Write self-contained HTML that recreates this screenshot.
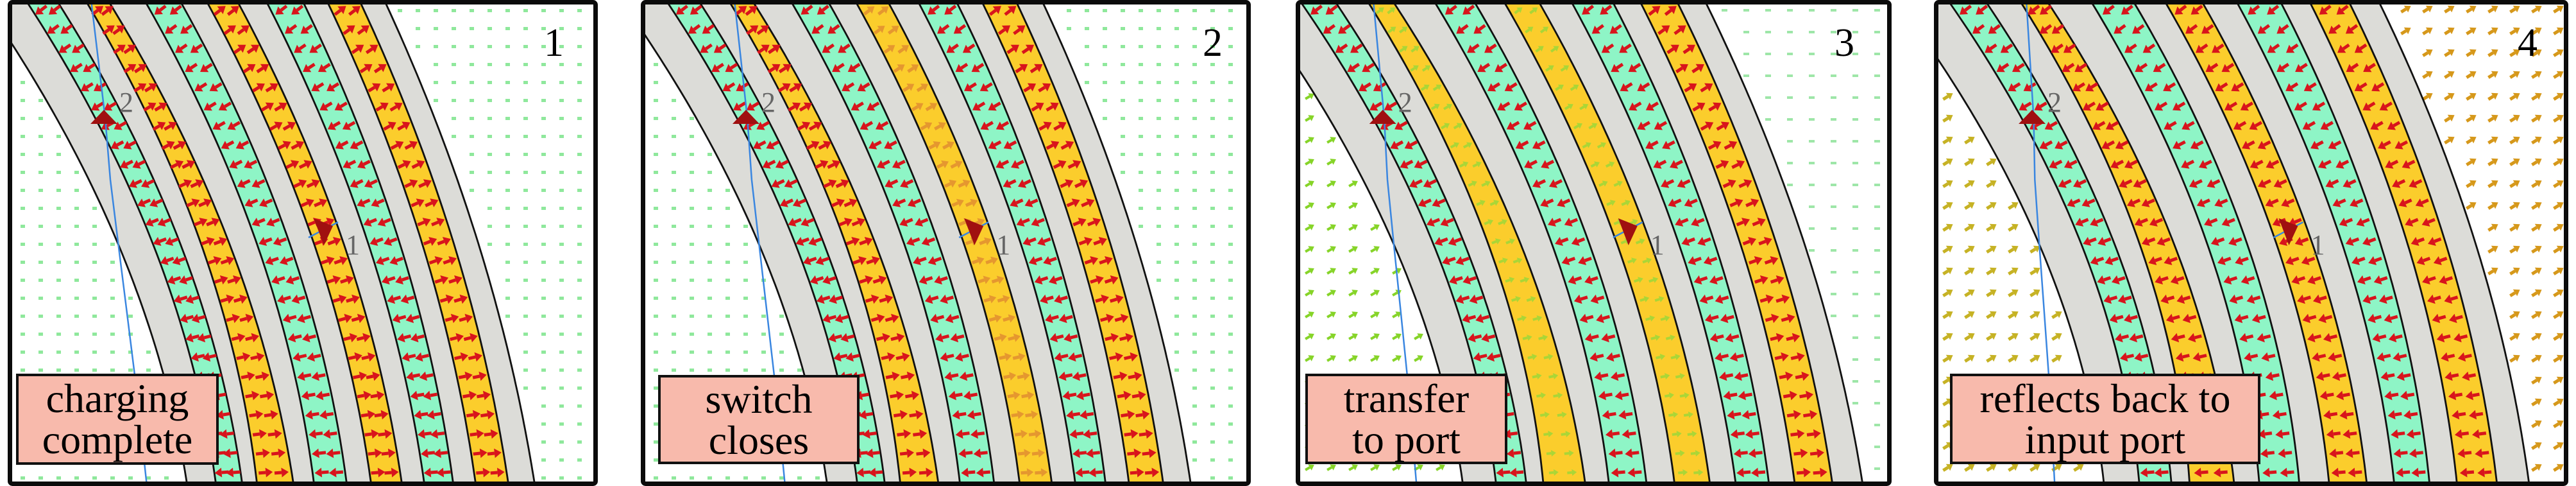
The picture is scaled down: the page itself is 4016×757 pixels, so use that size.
<!DOCTYPE html>
<html><head><meta charset="utf-8">
<style>
html,body{margin:0;padding:0;background:#fff;}
body{width:4016px;height:757px;position:relative;overflow:hidden;font-family:'Liberation Serif','DejaVu Serif',serif;}
svg{position:absolute;top:0;}
.lbl{position:absolute;background:#f8baac;border:4px solid #111;box-sizing:border-box;display:flex;flex-direction:column;justify-content:center;align-items:center;font-family:'Liberation Serif','DejaVu Serif',serif;font-size:64px;line-height:64px;color:#000;}
.num{position:absolute;top:36px;font-family:'Liberation Serif','DejaVu Serif',serif;font-size:62px;line-height:62px;color:#000;}
</style></head><body>
<div id="wrap"></div>
<div class="lbl" style="left:25px;top:582px;width:316px;height:142px;"><div>charging</div><div>complete</div></div>
<div class="lbl" style="left:1026px;top:584px;width:314px;height:139px;"><div>switch</div><div>closes</div></div>
<div class="lbl" style="left:2035px;top:582px;width:315px;height:141px;"><div>transfer</div><div>to port</div></div>
<div class="lbl" style="left:3040px;top:582px;width:484px;height:141px;"><div>reflects back to</div><div>input port</div></div>
<div class="num" style="left:848px;">1</div>
<div class="num" style="left:1875px;">2</div>
<div class="num" style="left:2860px;">3</div>
<div class="num" style="left:3925px;">4</div>
<script>
const BT=[-39,28,76,121,156,213,268,309,357,402,459,497,548,587];
const BB=[280,325,366,389,446,478,529,567,615,650,695,730,781,822];
const TYPES=['g','m','g','y','g','m','g','y','g','m','g','y','g'];
const COL={g:'#dcdcd8',m:'#8ef5c6',y:'#fbcd2c'};
const P=[
 {x0:12,w:920,aT:0,bT:1,aB:0,bB:1},
 {x0:999,w:951,aT:9.7,bT:1.048,aB:-2,bB:1.046},
 {x0:2020,w:929,aT:-26,bT:1.13,aB:-61,bB:1.15},
 {x0:3015,w:989,aT:-12,bT:1.2,aB:-77,bB:1.223}
];
const H=757;
function tf(p,x,t){return p.aT+(p.aB-p.aT)*t+(p.bT+(p.bB-p.bT)*t)*x;}
function bx(i,t,p){const T=BT[i],B=BB[i];const bul=51+(29-51)*i/13;const C=(T+B)/2+2*bul;
 const x=(1-t)*(1-t)*T+2*t*(1-t)*C+t*t*B;return tf(p,x,t);}
function arrow(x,y,ang,col,len,sw,op){
 const r=ang*Math.PI/180,c=Math.cos(r),s=Math.sin(r);
 const hx=x+c*len/2,hy=y+s*len/2,tx=x-c*len/2,ty=y-s*len/2;
 const hl=len*0.5,hw=len*0.34;
 const bx1=hx-c*hl,by1=hy-s*hl;
 const p1=(bx1-s*hw).toFixed(1)+','+(by1+c*hw).toFixed(1);
 const p2=(bx1+s*hw).toFixed(1)+','+(by1-c*hw).toFixed(1);
 const o=op?` opacity="${op}"`:'';
 return `<g${o}><line x1="${tx.toFixed(1)}" y1="${ty.toFixed(1)}" x2="${bx1.toFixed(1)}" y2="${by1.toFixed(1)}" stroke="${col}" stroke-width="${sw}"/><polygon points="${hx.toFixed(1)},${hy.toFixed(1)} ${p1} ${p2}" fill="${col}"/></g>`;
}
let html='';
P.forEach((p,k)=>{
 const w=p.w;let s=`<svg width="${w}" height="${H}" style="left:${p.x0}px" viewBox="0 0 ${w} ${H}"><defs><clipPath id="c${k}"><rect x="6" y="6" width="${w-12}" height="${H-12}"/></clipPath></defs><rect width="${w}" height="${H}" fill="#fff"/><g clip-path="url(#c${k})">`;
 const ys=[];for(let y=-4;y<=H+8;y+=8)ys.push(y);
 for(let y=14;y<H;y+=(k>=2?34:28)){const t=y/H;const l=bx(0,t,p)-8,r=bx(13,t,p)+8;
  for(let x=(k>=2?22:20);x<w;x+=(k>=2?34:28)){
   const left=x<l,right=x>r; if(!left&&!right)continue;
   if(k<2){s+=`<rect x="${x}" y="${y}" width="7" height="5" fill="#8fe89c"/>`;}
   else if(k==2){ if(left) s+=arrow(x,y,-30,'#86d428',16,4); else s+=`<rect x="${x-4}" y="${y}" width="9" height="4" fill="#9ee6a8"/>`;}
   else { s+=arrow(x,y,-32,left?'#c6b224':'#d6981a',18,5);}
  }}
 for(let i=0;i<13;i++){let d='M';ys.forEach((y,j)=>{d+=(j?'L':'')+bx(i,y/H,p).toFixed(1)+','+y;});
  for(let j=ys.length-1;j>=0;j--){d+='L'+bx(i+1,ys[j]/H,p).toFixed(1)+','+ys[j];}
  s+=`<path d="${d}Z" fill="${COL[TYPES[i]]}"/>`;}
 for(let i=0;i<14;i++){let d='M';ys.forEach((y,j)=>{d+=(j?'L':'')+bx(i,y/H,p).toFixed(1)+','+y;});
  s+=`<path d="${d}" fill="none" stroke="#111" stroke-width="2.8"/>`;}
 let bandIdx=0;
 for(let i=0;i<13;i++){const ty=TYPES[i];if(ty=='g')continue;
  const yb= ty=='y'?bandIdx++:-1;
  for(let y=16;y<H;y+=30){const t=y/H;const xl=bx(i,t,p),xr=bx(i+1,t,p);const a=38*(1-0.9*t);
   [0.28,0.72].forEach(f=>{const x=xl+(xr-xl)*f;
    if(ty=='m'){s+=arrow(x,y,180-a,'#d8141c',22,5);}
    else{
     if(k==3) s+=arrow(x,y,180-a,'#d8141c',22,5);
     else if(k==2&&yb<2) s+=arrow(x,y,-a,'#9cd83a',15,4,0.85);
     else if(k==1&&yb==1) s+=arrow(x,y,-a,'#e08a30',20,5,0.8);
     else s+=arrow(x,y,-a,'#d8141c',22,5);
    }});}
 }
 const bl=[[130,0],[142,100],[152,184],[160,280],[172,377],[185,480],[200,600],[217,757]];
 s+=`<polyline points="${bl.map(q=>tf(p,q[0],q[1]/H).toFixed(1)+','+q[1]).join(' ')}" fill="none" stroke="#3a86e0" stroke-width="2.5"/>`;
 const m2x=tf(p,150,184/H),m2y=184;
 s+=`<polygon points="${m2x-21},${m2y+9} ${m2x+21},${m2y+9} ${m2x},${m2y-13}" fill="#a01010"/>`;
 s+=`<text x="${m2x+24}" y="${m2y-10}" font-family="'Liberation Serif','DejaVu Serif',serif" font-size="44" fill="#666">2</text>`;
 const m1x=tf(p,491,362/H),m1y=362;
 s+=`<line x1="${m1x-22}" y1="${m1y+8}" x2="${m1x+24}" y2="${m1y-16}" stroke="#3a86e0" stroke-width="2.5"/>`;
 s+=`<polygon points="${m1x-14},${m1y-22} ${m1x+16},${m1y-10} ${m1x+2},${m1y+20}" fill="#a01010"/>`;
 s+=`<text x="${m1x+36}" y="${m1y+34}" font-family="'Liberation Serif','DejaVu Serif',serif" font-size="44" fill="#666">1</text>`;
 s+=`</g><rect x="3.5" y="3.5" width="${w-7}" height="${H-7}" rx="4" fill="none" stroke="#0b0b0b" stroke-width="7"/></svg>`;
 html+=s;
});
document.getElementById('wrap').innerHTML=html;
</script>
</body></html>
